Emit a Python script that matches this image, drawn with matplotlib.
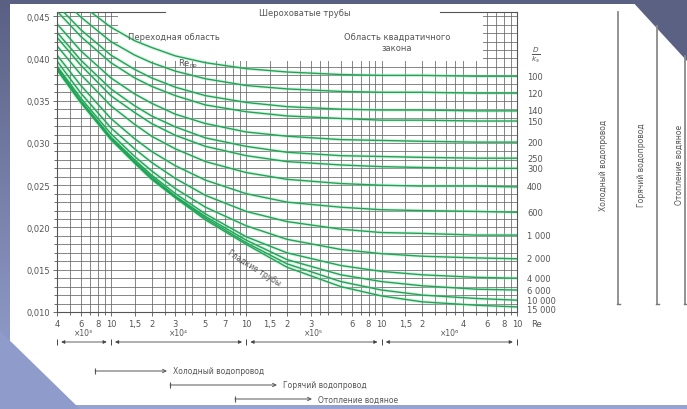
import matplotlib
matplotlib.use('Agg')
import numpy as np
import matplotlib.pyplot as plt
from matplotlib.patches import Rectangle, Polygon
from matplotlib.colors import LinearSegmentedColormap
from matplotlib.ticker import FixedLocator, MultipleLocator, FuncFormatter, LogLocator, NullFormatter

RE = [4e3, 6e3, 1e4, 1.5e4, 2e4, 3e4, 5e4, 1e5, 2e5, 5e5, 1e6, 2e6, 5e6, 1e7]

# relative roughness D/k_e of each curve
ROUGHNESS = [100, 120, 140, 150, 200, 250, 300, 400, 600, 1000, 2000, 4000, 6000, 10000, 15000]

# friction factor lambda, one row per curve
LAM_100 = [0.0491, 0.0464, 0.0437, 0.0421, 0.0413, 0.0403, 0.0395, 0.0388, 0.0384, 0.0381, 0.0380, 0.0380, 0.0379, 0.0379]
LAM_120 = [0.0477, 0.0449, 0.0420, 0.0404, 0.0395, 0.0385, 0.0376, 0.0368, 0.0364, 0.0361, 0.0360, 0.0360, 0.0359, 0.0359]
LAM_140 = [0.0463, 0.0434, 0.0404, 0.0387, 0.0377, 0.0366, 0.0356, 0.0348, 0.0343, 0.0340, 0.0339, 0.0339, 0.0338, 0.0338]
LAM_150 = [0.0456, 0.0426, 0.0395, 0.0377, 0.0367, 0.0356, 0.0345, 0.0337, 0.0332, 0.0329, 0.0327, 0.0327, 0.0326, 0.0326]
LAM_200 = [0.0441, 0.0409, 0.0377, 0.0358, 0.0347, 0.0334, 0.0323, 0.0313, 0.0308, 0.0304, 0.0303, 0.0302, 0.0301, 0.0301]
LAM_250 = [0.0431, 0.0398, 0.0364, 0.0344, 0.0332, 0.0319, 0.0306, 0.0296, 0.0289, 0.0285, 0.0284, 0.0283, 0.0282, 0.0282]
LAM_300 = [0.0425, 0.0392, 0.0356, 0.0336, 0.0323, 0.0309, 0.0296, 0.0285, 0.0278, 0.0274, 0.0272, 0.0271, 0.0270, 0.0270]
LAM_400 = [0.0415, 0.0381, 0.0344, 0.0322, 0.0308, 0.0293, 0.0278, 0.0265, 0.0257, 0.0252, 0.0250, 0.0249, 0.0249, 0.0248]
LAM_600 = [0.0404, 0.0368, 0.0329, 0.0305, 0.0290, 0.0273, 0.0256, 0.0240, 0.0230, 0.0224, 0.0221, 0.0220, 0.0219, 0.0218]
LAM_1000 = [0.0397, 0.0359, 0.0318, 0.0293, 0.0277, 0.0258, 0.0238, 0.0219, 0.0207, 0.0198, 0.0194, 0.0193, 0.0191, 0.0191]
LAM_2000 = [0.0391, 0.0353, 0.0311, 0.0284, 0.0267, 0.0246, 0.0224, 0.0202, 0.0186, 0.0174, 0.0169, 0.0166, 0.0164, 0.0163]
LAM_4000 = [0.0389, 0.0350, 0.0307, 0.0280, 0.0262, 0.0240, 0.0216, 0.0189, 0.0170, 0.0155, 0.0148, 0.0144, 0.0141, 0.0140]
LAM_6000 = [0.0388, 0.0349, 0.0306, 0.0278, 0.0260, 0.0237, 0.0213, 0.0185, 0.0162, 0.0144, 0.0136, 0.0131, 0.0127, 0.0126]
LAM_10000 = [0.0387, 0.0348, 0.0305, 0.0277, 0.0258, 0.0236, 0.0211, 0.0182, 0.0157, 0.0136, 0.0126, 0.0120, 0.0116, 0.0114]
LAM_15000 = [0.0387, 0.0348, 0.0304, 0.0276, 0.0257, 0.0235, 0.0209, 0.0180, 0.0153, 0.0130, 0.0119, 0.0112, 0.0108, 0.0106]

CURVES = [LAM_100, LAM_120, LAM_140, LAM_150, LAM_200, LAM_250, LAM_300, LAM_400,
          LAM_600, LAM_1000, LAM_2000, LAM_4000, LAM_6000, LAM_10000, LAM_15000]

TICK_RE = [4e3, 6e3, 8e3, 1e4, 1.5e4, 2e4, 3e4, 5e4, 7e4, 1e5, 1.5e5, 2e5, 3e5, 6e5, 8e5,
           1e6, 1.5e6, 2e6, 4e6, 6e6, 8e6, 1e7]
TICK_TEXT = ['4', '6', '8', '10', '1,5', '2', '3', '5', '7', '10', '1,5', '2', '3', '6', '8',
             '10', '1,5', '2', '4', '6', '8', '10']

DECADES = [4e3, 1e4, 1e5, 1e6, 1e7]
MULT_TEXT = ['×10³', '×10⁴', '×10⁵', '×10⁶']

WATER = ['Холодный водопровод', 'Горячий водопровод', 'Отопление водяное']

W, H = 687, 410
TXT = '#555555'
GREEN = '#1ea556'

fig = plt.figure(figsize=(W / 100, H / 100), dpi=100)

# slide background in pixel coordinates
bg = fig.add_axes([0, 0, 1, 1], zorder=-10)
bg.set_xlim(0, W)
bg.set_ylim(H, 0)
bg.axis('off')
cmap = LinearSegmentedColormap.from_list('slide', ['#596082', '#97a3d3'])
bg.imshow(np.linspace(0, 1, 256).reshape(-1, 1), extent=[0, W, H, 0], aspect='auto', cmap=cmap)
bg.add_patch(Rectangle((10, 5), W - 10, 401, facecolor='white', edgecolor='none'))
bg.add_patch(Polygon([(630, 0), (W, 0), (W, 62)], closed=True, facecolor='#5b6183', edgecolor='none'))
bg.add_patch(Polygon([(0, 332), (0, H), (80, H)], closed=True, facecolor='#8f9bcb', edgecolor='none'))

# ranges of Re for the three water systems (bottom)
for (x0, x1, y), name in zip([(95, 167, 372), (170, 277, 386), (235, 312, 400)], WATER):
    bg.annotate('', xy=(x1, y), xytext=(x0, y),
                arrowprops=dict(arrowstyle='->', color='#555555', lw=0.7,
                                mutation_scale=6, shrinkA=0, shrinkB=0))
    bg.plot([x0], [y], marker='|', ms=4, mew=0.8, color='#555555')
    bg.text(x1 + 6, y, name, fontsize=5.5, color=TXT, va='center', ha='left')

# same systems on the right side
for (x, y0), name, xt in zip([(618, 13), (657, 27), (685, 57)], WATER, [603, 642, 679]):
    bg.plot([x, x], [y0, 305], color='#8a8a8a', lw=1.3)
    bg.plot([x - 1.5, x + 1.5], [305, 305], color='#777777', lw=1.0)
    bg.text(xt, 165, name, fontsize=5.5, color=TXT, rotation=90, ha='center', va='center')

ax = fig.add_axes([57 / W, 1 - 313 / H, 460 / W, 300 / H])
ax.set_xscale('log')
ax.set_xlim(4e3, 1e7)
ax.set_ylim(0.010, 0.0455)

ax.xaxis.set_major_locator(FixedLocator(TICK_RE))
ax.set_xticklabels(TICK_TEXT)
ax.xaxis.set_minor_locator(LogLocator(base=10, subs=[1.5, 2, 2.5, 3, 3.5, 4, 5, 6, 7, 8, 9], numticks=30))
ax.xaxis.set_minor_formatter(NullFormatter())
ax.yaxis.set_major_locator(MultipleLocator(0.005))
ax.yaxis.set_minor_locator(MultipleLocator(0.001))
ax.yaxis.set_major_formatter(FuncFormatter(lambda v, p: f'{v:.3f}'.replace('.', ',')))

ax.set_axisbelow(True)
ax.grid(which='both', color='#666666', lw=0.55)
ax.tick_params(which='both', labelsize=6, colors=TXT, pad=2, length=3, width=0.6)
ax.tick_params(which='minor', length=2)
for side in ['left', 'right', 'bottom']:
    ax.spines[side].set_color('#555555')
    ax.spines[side].set_linewidth(0.8)
ax.spines['top'].set_visible(False)
ax.plot([0, 0.235], [1, 1], transform=ax.transAxes, color='#555555', lw=0.8, clip_on=False)
ax.plot([0.833, 1], [1, 1], transform=ax.transAxes, color='#555555', lw=0.8, clip_on=False)

# label box at the top hides the grid
ax.add_patch(Rectangle((0.133, 0.837), 0.793, 0.163, transform=ax.transAxes,
                       facecolor='white', edgecolor='none', zorder=1))

label_y = None
for r, lam in zip(ROUGHNESS, CURVES):
    ax.plot(RE, lam, color='#9edcb6', lw=2.6, alpha=0.35, zorder=1.5)
    ax.plot(RE, lam, color=GREEN, lw=1.0, zorder=2, solid_joinstyle='round')
    # keep the crowded labels at the bottom apart
    label_y = lam[-1] if label_y is None else min(lam[-1], label_y - 0.00115)
    name = f'{r:,}'.replace(',', ' ')
    ax.text(1.022, label_y, name, transform=ax.get_yaxis_transform(), fontsize=6,
            color=TXT, va='center', ha='left', clip_on=False)

ax.text(1.03, 0.86, r'$\frac{D}{k_{\mathrm{э}}}$', transform=ax.transAxes, fontsize=7.5,
        color=TXT, va='center', ha='left')

ax.text(0.539, 0.997, 'Шероховатые трубы', transform=ax.transAxes, fontsize=6,
        color=TXT, ha='center', va='center', zorder=3)
ax.text(0.154, 0.92, 'Переходная область', transform=ax.transAxes, fontsize=6,
        color=TXT, ha='left', va='center', zorder=3)
ax.text(0.739, 0.92, 'Область квадратичного', transform=ax.transAxes, fontsize=6,
        color=TXT, ha='center', va='center', zorder=3)
ax.text(0.739, 0.883, 'закона', transform=ax.transAxes, fontsize=6,
        color=TXT, ha='center', va='center', zorder=3)
ax.text(0.285, 0.83, r'Re$_{\mathrm{пр}}$', transform=ax.transAxes, fontsize=6,
        color=TXT, ha='center', va='center', zorder=3)
ax.text(0.428, 0.15, 'Гладкие трубы', transform=ax.transAxes, fontsize=5.5,
        color=TXT, ha='center', va='center', rotation=-32, zorder=3)
ax.text(1.043, -0.04, 'Re', transform=ax.transAxes, fontsize=6, color=TXT,
        ha='center', va='center')

# multiplier row under the Re axis
xt = ax.get_xaxis_transform()
for lo, hi, label in zip(DECADES[:-1], DECADES[1:], MULT_TEXT):
    ax.annotate('', xy=(hi, -0.10), xytext=(lo, -0.10), xycoords=xt,
                arrowprops=dict(arrowstyle='<|-|>', color='#444444', lw=0.6,
                                mutation_scale=5, shrinkA=3, shrinkB=3))
    ax.text(np.sqrt(lo * hi), -0.068, label, transform=xt, fontsize=5.5,
            color=TXT, ha='center', va='center')
ax.plot(DECADES, [-0.10] * len(DECADES), transform=xt, ls='none', marker='|',
        ms=5, mew=0.7, color='#444444', clip_on=False)

fig.savefig('out.png', dpi=100)
